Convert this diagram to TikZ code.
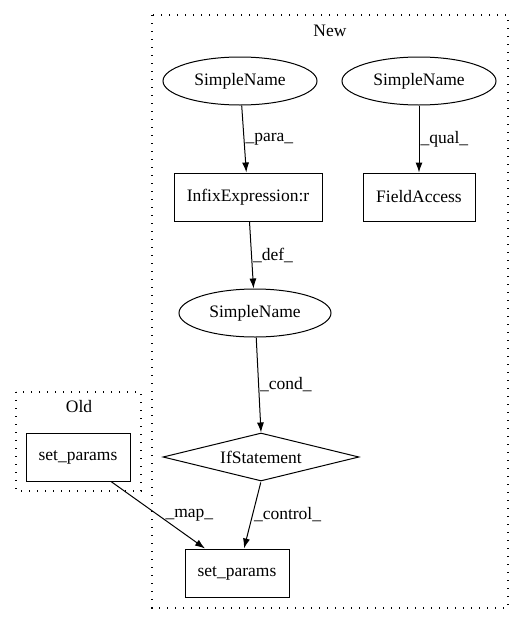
\documentclass[tikz,border=0pt]{standalone}
\usepackage{fontspec}
\setmainfont{Liberation Serif}
\usetikzlibrary{shapes,shapes.geometric,arrows.meta}

\begin{document}
\begin{tikzpicture}[x=1pt,y=-1pt,->,>={Latex[length=10pt,width=7pt]},line width=1pt,
  name node/.style={ellipse,draw,minimum width=154pt,minimum height=48pt,inner sep=0pt,font=\fontsize{17.5}{20}\selectfont},
  stmt node/.style={rectangle,draw,minimum height=48pt,inner sep=0pt,font=\fontsize{17.5}{20}\selectfont},
  cond node/.style={diamond,draw,aspect=4.1,minimum height=48pt,minimum width=196pt,inner sep=0pt,font=\fontsize{17.5}{20}\selectfont},
  lbl/.style={right,inner sep=1pt,font=\fontsize{17.5}{20}\selectfont},
  cluster/.style={-,line width=1.2pt,dash pattern=on 1.2pt off 6.8pt}]

  \useasboundingbox (0,0) rectangle (523,624);

  % clusters
  \draw[cluster] (152,15) rectangle (508,608);
  \draw[cluster] (16,392) rectangle (141,491);
  \node[font=\fontsize{17.5}{20}\selectfont] (newlbl) at (330,31) {New};
  \node[font=\fontsize{17.5}{20}\selectfont] (oldlbl) at (79,407) {Old};

  \node[name node] (sn1) at (240,81) {SimpleName};
  \node[name node] (sn2) at (419,81) {SimpleName};
  \node[stmt node,minimum width=148pt] (infix) at (248,197) {InfixExpression:r};
  \node[stmt node,minimum width=112pt] (field) at (419,197) {FieldAccess};
  \node[name node,minimum width=152pt] (sn3) at (255,313) {SimpleName};
  \node[cond node] (if) at (261,457) {IfStatement};
  \node[stmt node,minimum width=104pt] (newset) at (237,573) {set\_params};
  \node[stmt node,minimum width=104pt] (oldset) at (78,457) {set\_params};

  \path
    (sn1) edge node[lbl] {\_para\_} (infix)
    (sn2) edge node[lbl] {\_qual\_} (field)
    (infix) edge node[lbl] {\_def\_} (sn3)
    (sn3) edge node[lbl] {\_cond\_} (if.north)
    (if.south) edge[shorten <=1pt] node[lbl] {\_control\_} (newset.north -| 244,0)
    (oldset.south -| 111,0) edge node[lbl,xshift=6pt] {\_map\_} (newset.north -| 205,0);
\end{tikzpicture}
\end{document}
